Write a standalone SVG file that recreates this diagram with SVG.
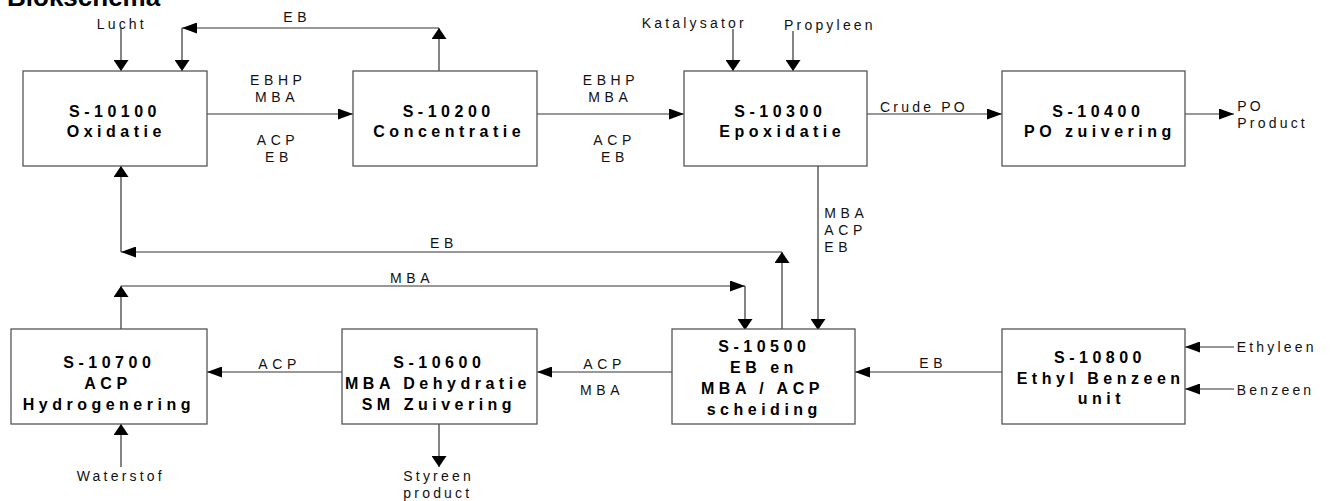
<svg xmlns="http://www.w3.org/2000/svg" width="1330" height="501" viewBox="0 0 1330 501">
<defs>
<style>
.box{fill:#fff;stroke:#555;stroke-width:1.3}
.t{font-family:"Liberation Sans",Arial,sans-serif;font-weight:bold;font-size:16px;letter-spacing:4.5px;fill:#000}
.l{font-family:"Liberation Sans",Arial,sans-serif;font-size:14px;letter-spacing:3.2px;fill:#111}
.c{font-family:"Liberation Sans",Arial,sans-serif;font-size:14px;letter-spacing:4.6px;fill:#111}
.ln{fill:none;stroke:#333;stroke-width:1.2}
.h{marker-end:url(#mh)}
.v{marker-end:url(#mv)}
</style>
<marker id="mh" markerUnits="userSpaceOnUse" markerWidth="15" markerHeight="11" viewBox="0 0 15 11" refX="15" refY="5.5" orient="auto"><path d="M0,0 L15,5.5 L0,11 z" fill="#000"/></marker>
<marker id="mv" markerUnits="userSpaceOnUse" markerWidth="11" markerHeight="15" viewBox="0 0 11 15" refX="11" refY="7.5" orient="auto"><path d="M0,0 L11,7.5 L0,15 z" fill="#000"/></marker>
</defs>
<rect width="1330" height="501" fill="#fff"/>
<text x="7" y="6" style="font-family:'Liberation Sans',Arial,sans-serif;font-weight:bold;font-size:26px">Blokschema</text>

<g id="connectors">
<path class="ln v" d="M121,28 V71"/>
<path class="ln v" d="M439,71 V28"/>
<path class="ln h" d="M439,28 H182"/>
<path class="ln v" d="M182,28 V71"/>
<path class="ln h" d="M207,114 H353"/>
<path class="ln h" d="M537,114 H684"/>
<path class="ln v" d="M733,29 V71"/>
<path class="ln v" d="M793,31 V71"/>
<path class="ln h" d="M867,114 H1002"/>
<path class="ln h" d="M1185,114 H1234"/>
<path class="ln v" d="M818,166 V330"/>
<path class="ln v" d="M782,329 V252"/>
<path class="ln h" d="M782,252 H121"/>
<path class="ln v" d="M121,252 V166"/>
<path class="ln v" d="M121,329 V286"/>
<path class="ln h" d="M121,286 H745"/>
<path class="ln v" d="M745,286 V330"/>
<path class="ln h" d="M672,372 H537"/>
<path class="ln h" d="M342,372 H207"/>
<path class="ln h" d="M1002,372 H855"/>
<path class="ln h" d="M1234,347 H1185"/>
<path class="ln h" d="M1234,389 H1185"/>
<path class="ln v" d="M121,467 V424"/>
<path class="ln v" d="M439,424 V467"/>

<text class="l" x="96.7" y="29">Lucht</text>
<text class="c" x="283.3" y="21.7">EB</text>
<text class="c" x="250" y="85">EBHP</text>
<text class="c" x="255" y="101.7">MBA</text>
<text class="c" x="256.7" y="145">ACP</text>
<text class="c" x="265" y="161.7">EB</text>
<text class="c" x="582.7" y="85">EBHP</text>
<text class="c" x="588.3" y="101.7">MBA</text>
<text class="c" x="593.3" y="145">ACP</text>
<text class="c" x="601" y="161.7">EB</text>
<text class="l" x="641.7" y="28.3">Katalysator</text>
<text class="l" x="784" y="30">Propyleen</text>
<text class="l" x="880" y="111.5">Crude PO</text>
<text class="l" x="1237.3" y="110.7">PO</text>
<text class="l" x="1237.3" y="128.3">Product</text>
<text class="c" x="824.3" y="217.7">MBA</text>
<text class="c" x="824.3" y="235">ACP</text>
<text class="c" x="824.3" y="251.7">EB</text>
<text class="c" x="430" y="248.3">EB</text>
<text class="c" x="390" y="282.7">MBA</text>
<text class="c" x="258.3" y="369">ACP</text>
<text class="c" x="583.3" y="369">ACP</text>
<text class="c" x="580" y="395">MBA</text>
<text class="c" x="919.3" y="368.3">EB</text>
<text class="l" x="1236.7" y="352.3">Ethyleen</text>
<text class="l" x="1236.7" y="395">Benzeen</text>
<text class="l" x="76.7" y="480.7">Waterstof</text>
<text class="l" x="403.3" y="481">Styreen</text>
<text class="l" x="403.3" y="498.3">product</text>
</g>

<g id="S-10100">
<rect class="box" x="23" y="71" width="184" height="95"/>
<text class="t" x="69" y="117">S-10100</text>
<text class="t" x="66.7" y="137">Oxidatie</text>
</g>
<g id="S-10200">
<rect class="box" x="353" y="71" width="184" height="95"/>
<text class="t" x="402.7" y="117">S-10200</text>
<text class="t" x="373.3" y="137">Concentratie</text>
</g>
<g id="S-10300">
<rect class="box" x="684" y="71" width="183" height="95"/>
<text class="t" x="734.3" y="117">S-10300</text>
<text class="t" x="719.3" y="137">Epoxidatie</text>
</g>
<g id="S-10400">
<rect class="box" x="1002" y="71" width="183" height="95"/>
<text class="t" x="1052.3" y="117">S-10400</text>
<text class="t" x="1024" y="137">PO zuivering</text>
</g>
<g id="S-10700">
<rect class="box" x="11" y="329" width="196" height="95"/>
<text class="t" x="63.3" y="368.3">S-10700</text>
<text class="t" x="84.3" y="389.3">ACP</text>
<text class="t" x="22.7" y="410">Hydrogenering</text>
</g>
<g id="S-10600">
<rect class="box" x="342" y="329" width="195" height="95"/>
<text class="t" x="393.3" y="368.3">S-10600</text>
<text class="t" x="345" y="389.3">MBA Dehydratie</text>
<text class="t" x="361.7" y="410">SM Zuivering</text>
</g>
<g id="S-10500">
<rect class="box" x="672" y="329" width="183" height="95"/>
<text class="t" x="718.3" y="352.3">S-10500</text>
<text class="t" x="730" y="373.3">EB en</text>
<text class="t" x="701" y="394">MBA / ACP</text>
<text class="t" x="706.7" y="415">scheiding</text>
</g>
<g id="S-10800">
<rect class="box" x="1002" y="329" width="183" height="95"/>
<text class="t" x="1054" y="363.3">S-10800</text>
<text class="t" x="1016.7" y="384">Ethyl Benzeen</text>
<text class="t" x="1077.7" y="404.3">unit</text>
</g>
</svg>
